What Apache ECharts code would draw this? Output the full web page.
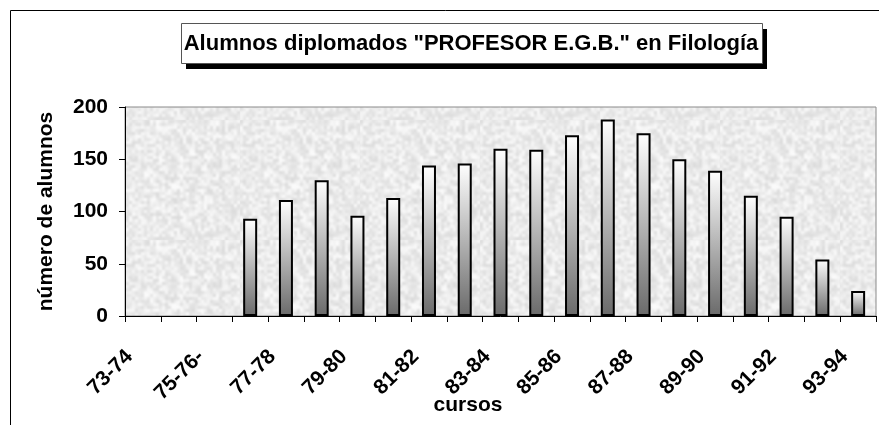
<!DOCTYPE html>
<html>
<head>
<meta charset="utf-8">
<script src="https://cdn.jsdelivr.net/npm/echarts@6/dist/echarts.min.js"></script>
<style>
  html, body { margin: 0; padding: 0; background: #fff; }
  #chart { width: 879px; height: 425px; }
</style>
</head>
<body>
<div id="chart"></div>
<script>
  // cursos (the chart shows only every other label)
  var cursos = ['73-74', '74-75', '75-76-', '76-77', '77-78', '78-79', '79-80', '80-81',
    '81-82', '82-83', '83-84', '84-85', '85-86', '86-87', '87-88', '88-89',
    '89-90', '90-91', '91-92', '92-93', '93-94']
  // número de alumnos diplomados
  var alumnos = [null, null, null, 93, 111, 130, 96, 113, 144, 146, 160, 159,
    173, 188, 175, 150, 139, 115, 95, 54, 24]
  var yTicks = { min: 0, max: 200, interval: 50 }

  var FONT = '"Liberation Sans", Arial, sans-serif'

  // mottled grey fill for the plot area (old excel texture look)
  function makeTexture() {
    var raw = document.createElement('canvas')
    raw.width = 120
    raw.height = 120
    var rc = raw.getContext('2d')
    for (var y = 0; y < 120; y += 3) {
      for (var x = 0; x < 120; x += 3) {
        var h = Math.sin(x * 12.9898 + y * 78.233) * 43758.5453
        h = h - Math.floor(h)
        var g = Math.round(218 + h * 34)
        rc.fillStyle = 'rgb(' + g + ',' + g + ',' + g + ')'
        rc.fillRect(x, y, 3, 3)
      }
    }
    var c = document.createElement('canvas')
    c.width = 120
    c.height = 120
    var ctx = c.getContext('2d')
    ctx.fillStyle = '#ebebeb'
    ctx.fillRect(0, 0, 120, 120)
    ctx.filter = 'blur(1.2px)'
    ctx.drawImage(raw, 0, 0)
    return c
  }

  var chart = echarts.init(document.getElementById('chart'))

  chart.setOption({
    backgroundColor: '#fff',
    animation: false,
    grid: {
      left: 125,
      right: 3,
      top: 107,
      bottom: 109,
      show: true,
      backgroundColor: { image: makeTexture(), repeat: 'repeat' },
      borderColor: '#8a8a8a',
      borderWidth: 1
    },
    xAxis: {
      type: 'category',
      data: cursos,
      boundaryGap: true,
      axisLine: { lineStyle: { color: '#000', width: 1 } },
      axisTick: { show: true, interval: 0, length: 6, lineStyle: { color: '#000' } },
      axisLabel: {
        interval: 1,
        rotate: 45,
        margin: 24,
        padding: [0, 19, 0, 0],
        color: '#000',
        fontFamily: FONT,
        fontWeight: 'bold',
        fontSize: 21
      },
      splitLine: { show: false }
    },
    yAxis: {
      type: 'value',
      min: yTicks.min,
      max: yTicks.max,
      interval: yTicks.interval,
      name: 'número de alumnos',
      nameLocation: 'middle',
      nameGap: 68,
      nameTextStyle: { color: '#000', fontFamily: FONT, fontWeight: 'bold', fontSize: 21 },
      axisLine: { show: true, lineStyle: { color: '#000', width: 1 } },
      axisTick: { show: true, length: 6, lineStyle: { color: '#000' } },
      axisLabel: {
        margin: 17,
        color: '#000',
        fontFamily: FONT,
        fontWeight: 'bold',
        fontSize: 21
      },
      splitLine: { show: false }
    },
    series: [{
      type: 'bar',
      data: alumnos,
      barWidth: 14,
      itemStyle: {
        color: new echarts.graphic.LinearGradient(0, 0, 0, 1, [
          { offset: 0, color: '#ffffff' },
          { offset: 1, color: '#6a6a6a' }
        ]),
        borderColor: '#000',
        borderWidth: 2
      }
    }],
    graphic: [
      // outer frame
      {
        type: 'rect',
        shape: { x: 10.5, y: 10.5, width: 900, height: 500 },
        style: { fill: 'none', stroke: '#000', lineWidth: 1 },
        silent: true
      },
      // title box shadow
      {
        type: 'rect',
        shape: { x: 186, y: 29, width: 581, height: 40 },
        style: { fill: '#000' },
        silent: true
      },
      // title box
      {
        type: 'rect',
        shape: { x: 181.5, y: 23.5, width: 581, height: 40 },
        style: { fill: '#fff', stroke: '#555', lineWidth: 1 },
        silent: true
      },
      {
        type: 'text',
        x: 471,
        y: 44,
        style: {
          text: 'Alumnos diplomados "PROFESOR E.G.B." en Filología',
          fill: '#000',
          font: 'bold 22px ' + FONT,
          textAlign: 'center',
          textVerticalAlign: 'middle'
        },
        silent: true
      },
      {
        type: 'text',
        x: 468,
        y: 405,
        style: {
          text: 'cursos',
          fill: '#000',
          font: 'bold 21px ' + FONT,
          textAlign: 'center',
          textVerticalAlign: 'middle'
        },
        silent: true
      }
    ]
  })
</script>
</body>
</html>
